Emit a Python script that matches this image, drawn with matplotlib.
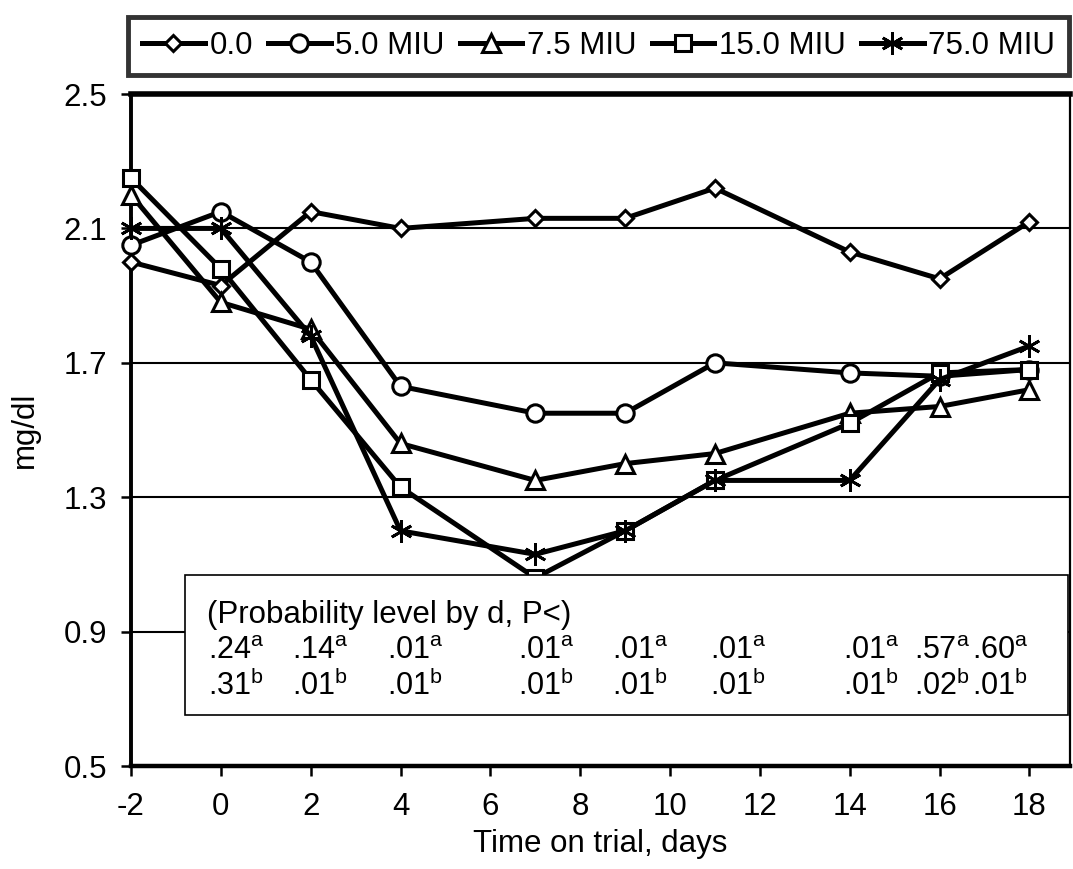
import matplotlib
matplotlib.use("Agg")
import matplotlib.pyplot as plt

plt.rcParams['font.family'] = ['Liberation Sans', 'DejaVu Sans']
plt.rcParams['mathtext.fontset'] = 'custom'
plt.rcParams['mathtext.rm'] = 'Liberation Sans'
plt.rcParams['mathtext.it'] = 'Liberation Sans'
plt.rcParams['axes.unicode_minus'] = False

days = [-2, 0, 2, 4, 7, 9, 11, 14, 16, 18]

# mg/dl by treatment
d00 = [2.00, 1.93, 2.15, 2.10, 2.13, 2.13, 2.22, 2.03, 1.95, 2.12]
d50 = [2.05, 2.15, 2.00, 1.63, 1.55, 1.55, 1.70, 1.67, 1.66, 1.68]
d75 = [2.20, 1.88, 1.80, 1.46, 1.35, 1.40, 1.43, 1.55, 1.57, 1.62]
d150 = [2.25, 1.98, 1.65, 1.33, 1.06, 1.20, 1.35, 1.52, 1.67, 1.68]
d750 = [2.10, 2.10, 1.78, 1.20, 1.13, 1.20, 1.35, 1.35, 1.65, 1.75]

labels = ["0.0", "5.0 MIU", "7.5 MIU", "15.0 MIU", "75.0 MIU"]
markers = ["D", "o", "^", "s", "x"]

# probability text rows (left edge of each entry, in days)
prob_x = [-0.29, 1.58, 3.69, 6.61, 8.70, 10.88, 13.84, 15.44, 16.73]
prob_a = [".24", ".14", ".01", ".01", ".01", ".01", ".01", ".57", ".60"]
prob_b = [".31", ".01", ".01", ".01", ".01", ".01", ".01", ".02", ".01"]

fig = plt.figure(figsize=(10.73, 8.69), dpi=100)
ax = fig.add_axes([0.1221, 0.1185, 0.8749, 0.7733])

series = [d00, d50, d75, d150, d750]
sizes = {"D": 8.5, "o": 12.5, "^": 12.5, "s": 11.5}
handles = []
for vals, lab, mk in zip(series, labels, markers):
    if mk == "x":
        h, = ax.plot(days, vals, color="black", lw=3.6, marker=(6, 2, 0), ms=16,
                     mew=2.0, mec="black", label=lab, zorder=3, clip_on=False)
    else:
        h, = ax.plot(days, vals, color="black", lw=3.6, marker=mk, ms=sizes[mk],
                     mfc="white", mec="black", mew=2.2, label=lab, zorder=3,
                     clip_on=False)
    handles.append(h)

ax.set_xlim(-2, 18.9)
ax.set_ylim(0.5, 2.5)
ax.set_xticks(range(-2, 19, 2))
ax.set_yticks([0.5, 0.9, 1.3, 1.7, 2.1, 2.5])
ax.set_yticklabels(["0.5", "0.9", "1.3", "1.7", "2.1", "2.5"])
for y in [0.9, 1.3, 1.7, 2.1]:
    ax.axhline(y, color="black", lw=1.5, zorder=1)

ax.tick_params(axis="both", labelsize=22.5, direction="out", length=7, width=1.8)
ax.tick_params(axis="x", pad=12)
ax.tick_params(axis="y", pad=10)
ax.spines["left"].set_linewidth(2.8)
ax.spines["top"].set_linewidth(4)
ax.spines["bottom"].set_linewidth(3.2)
ax.spines["right"].set_linewidth(1.6)

ax.set_xlabel("Time on trial, days", fontsize=22.5)
ax.set_ylabel("mg/dl", fontsize=22.5)
ax.xaxis.set_label_coords(0.5, -0.094)
ax.yaxis.set_label_coords(-0.097, 0.5)

# probability box
box = plt.Rectangle((0.0575, 0.076), 0.9985 - 0.0575, 0.284 - 0.076,
                    transform=ax.transAxes, facecolor="white", edgecolor="black",
                    lw=1.2, zorder=4)
ax.add_patch(box)
ax.text(-0.31, 0.926, "(Probability level by d, P<)", fontsize=22.5,
        va="baseline", ha="left", zorder=5)
for x, a, b in zip(prob_x, prob_a, prob_b):
    ax.text(x, 0.818, a + r"$^{\mathrm{a}}$", fontsize=22, va="baseline", ha="left", zorder=5)
    ax.text(x, 0.711, b + r"$^{\mathrm{b}}$", fontsize=22, va="baseline", ha="left", zorder=5)

leg = fig.legend(handles=handles, labels=labels, loc="lower left",
                 bbox_to_anchor=(0.1193, 0.9137, 0.8773, 0.077), mode="expand",
                 ncol=5, fontsize=22.5, handlelength=2.0, handletextpad=0.15,
                 columnspacing=0.5, frameon=True, fancybox=False,
                 borderaxespad=0, borderpad=0.45)
leg.get_frame().set_edgecolor("black")
leg.get_frame().set_linewidth(3.5)

fig.savefig("out.png", dpi=100)
